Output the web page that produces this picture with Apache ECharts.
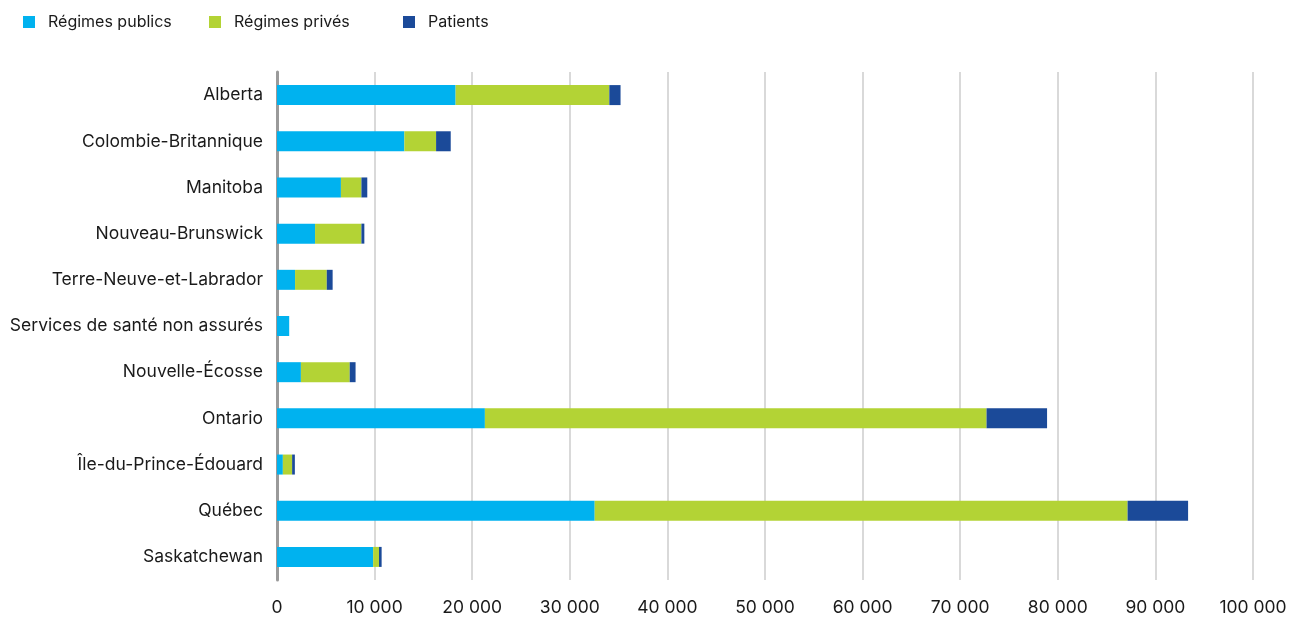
<!DOCTYPE html>
<html>
<head>
<meta charset="utf-8">
<script src="https://cdn.jsdelivr.net/npm/echarts@6/dist/echarts.min.js"></script>
<style>
  html, body { margin: 0; padding: 0; background: #fff; }
  #chart { width: 1302px; height: 617px; }
</style>
</head>
<body>
<div id="chart"></div>
<script>
// Provinces / plans, top to bottom
const categories = [
  'Alberta', 'Colombie-Britannique', 'Manitoba', 'Nouveau-Brunswick',
  'Terre-Neuve-et-Labrador', 'Services de santé non assurés', 'Nouvelle-Écosse',
  'Ontario', 'Île-du-Prince-Édouard', 'Québec', 'Saskatchewan'
];
// Spending by payer
const regimesPublics = [18300, 13050, 6550, 3900, 1850, 1250, 2450, 21300, 600, 32550, 9850];
const regimesPrives  = [15750, 3250, 2100, 4750, 3250, 0, 5000, 51400, 950, 54600, 600];
const patients       = [1150, 1500, 600, 300, 600, 0, 600, 6200, 280, 6200, 270];
const seriesNames = ['Régimes publics', 'Régimes privés', 'Patients'];
const colors = ['#00b2ef', '#b3d335', '#1b4a99'];

const fontFamily = 'Inter, "Liberation Sans", Arial, sans-serif';
const fmt = v => String(v).replace(/\B(?=(\d{3})+(?!\d))/g, ' ');

const chart = echarts.init(document.getElementById('chart'));
const legendBase = {
  top: 9, itemWidth: 12, itemHeight: 12, itemGap: 0, icon: 'rect',
  textStyle: { fontFamily, fontSize: 16, color: '#1a1a1a', padding: [0, 0, 0, 8] },
  selectedMode: false
};
chart.setOption({
  animation: false,
  color: colors,
  legend: [
    Object.assign({ left: 18, data: [seriesNames[0]] }, legendBase),
    Object.assign({ left: 204, data: [seriesNames[1]] }, legendBase),
    Object.assign({ left: 398, data: [seriesNames[2]] }, legendBase)
  ],
  grid: { left: 277, right: 49, top: 72, bottom: 36, containLabel: false },
  xAxis: {
    type: 'value', min: 0, max: 100000, interval: 10000,
    axisLine: { show: false },
    axisTick: { show: false },
    splitLine: { show: true, lineStyle: { color: '#d9d9d9', width: 2 } },
    axisLabel: {
      fontFamily, fontSize: 17.5, color: '#1a1a1a', margin: 19,
      formatter: v => fmt(v)
    }
  },
  yAxis: {
    type: 'category', data: categories, inverse: true,
    axisLine: { show: true, lineStyle: { color: '#9a9a9a', width: 3 } },
    axisTick: { show: false },
    axisLabel: { fontFamily, fontSize: 17.5, color: '#1a1a1a', margin: 14 }
  },
  series: [regimesPublics, regimesPrives, patients].map((d, i) => ({
    name: seriesNames[i],
    type: 'bar',
    stack: 'total',
    barWidth: 20,
    data: d,
    itemStyle: { color: colors[i] },
    z: 3
  }))
});
</script>
</body>
</html>
